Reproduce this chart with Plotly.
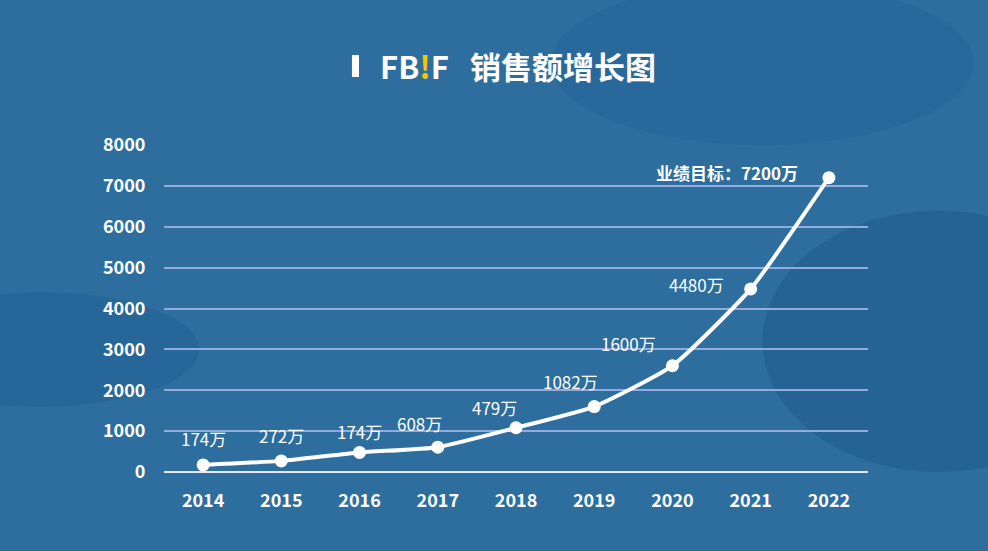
import plotly.graph_objects as go

# sales data (万元)
years = ["2014", "2015", "2016", "2017", "2018", "2019", "2020", "2021", "2022"]
sales = [174, 272, 479, 608, 1082, 1600, 2600, 4480, 7200]
# label text as printed on the original chart
point_labels = ["174万", "272万", "174万", "608万", "479万", "1082万", "1600万", "4480万", "业绩目标：7200万"]
y_ticks = [0, 1000, 2000, 3000, 4000, 5000, 6000, 7000, 8000]

# label offsets in pixels (dx, dy) relative to each point
label_dx = [0, 0, 0, -18, -22, -24, -44, -54, -29]
label_dy = [26, 25, 21, 24, 20, 25, 22, 4, 5]

FONT = "Noto Sans CJK SC"
BG = "#2d6e9f"
GRID = "#93abdf"

fig = go.Figure()

fig.add_trace(go.Scatter(
    x=years,
    y=sales,
    mode="lines+markers",
    line=dict(color="white", width=4, shape="spline", smoothing=0.5),
    marker=dict(color="white", size=13),
    hoverinfo="x+y",
    showlegend=False,
))

for i, (val, txt) in enumerate(zip(sales, point_labels)):
    last = i == len(years) - 1
    fig.add_annotation(
        x=i, y=val, text=f"<b>{txt}</b>" if last else txt,
        showarrow=False,
        xshift=label_dx[i], yshift=label_dy[i],
        xanchor="right" if last else "center",
        font=dict(family=FONT, size=17, color="white"),
    )

# title with yellow "!" in the logo
fig.add_annotation(
    xref="paper", yref="paper", x=0.503, y=1.0, yshift=80, yanchor="middle",
    text="<b>FB<span style='color:#f7c600'>!</span>F   销售额增长图</b>",
    showarrow=False,
    font=dict(family=FONT, size=31, color="white"),
)

# darker photo-like patches in the background
shapes = [
    dict(type="circle", xref="paper", yref="paper", x0=0.85, x1=1.35, y0=0.0, y1=0.8,
         fillcolor="#1c5688", opacity=0.45, line_width=0, layer="below"),
    dict(type="circle", xref="paper", yref="paper", x0=-0.4, x1=0.05, y0=0.2, y1=0.55,
         fillcolor="#1c5688", opacity=0.3, line_width=0, layer="below"),
    dict(type="circle", xref="paper", yref="paper", x0=0.55, x1=1.15, y0=1.0, y1=1.5,
         fillcolor="#1f5c8e", opacity=0.3, line_width=0, layer="below"),
    # small logo bar before the title
    dict(type="rect", xref="paper", yref="paper", x0=0.267, x1=0.277, y0=1.208, y1=1.275,
         fillcolor="white", line_width=0),
]

fig.update_layout(
    width=988, height=551,
    margin=dict(l=164, r=120, t=145, b=79),
    paper_bgcolor=BG,
    plot_bgcolor="rgba(0,0,0,0)",
    shapes=shapes,
    font=dict(family=FONT, color="white"),
)

fig.update_xaxes(
    type="category",
    range=[-0.5, len(years) - 0.5],
    showgrid=False, showline=False, zeroline=False,
    ticks="outside", ticklen=12, tickcolor="rgba(0,0,0,0)",
    tickfont=dict(family=FONT, size=18, color="white", weight="bold"),
)
fig.update_yaxes(
    range=[0, 8000],
    tickvals=y_ticks,
    showgrid=True, gridcolor=GRID, gridwidth=2,
    zeroline=True, zerolinecolor="#e6e9f5", zerolinewidth=2,
    showline=False,
    ticks="outside", ticklen=14, tickcolor="rgba(0,0,0,0)",
    tickfont=dict(family=FONT, size=18, color="white", weight="bold"),
)

fig.write_html("out.html", config={"displayModeBar": False},
               post_script="document.body.style.margin='0';")
